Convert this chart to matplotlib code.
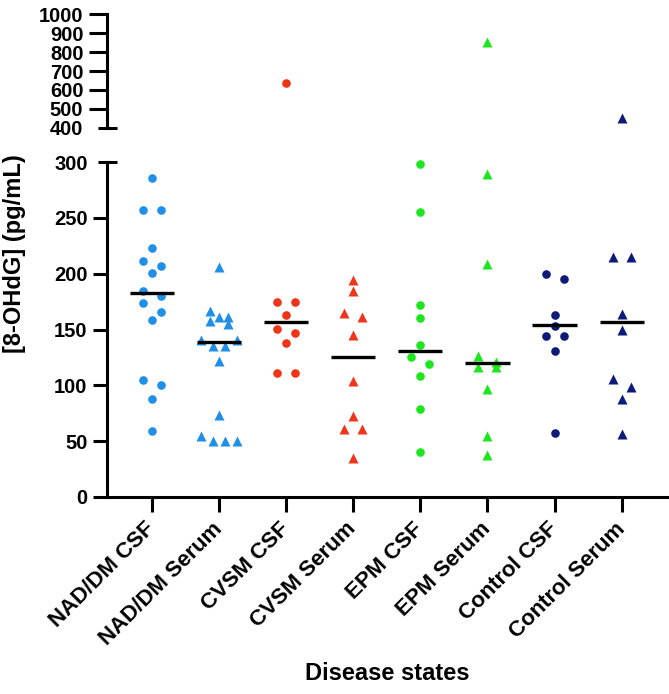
import matplotlib.pyplot as plt
import matplotlib.transforms as mtransforms
import numpy as np

plt.rcParams["font.family"] = ["Liberation Sans", "DejaVu Sans"]
plt.rcParams["font.weight"] = "bold"

groups = ["NAD/DM CSF", "NAD/DM Serum", "CVSM CSF", "CVSM Serum",
          "EPM CSF", "EPM Serum", "Control CSF", "Control Serum"]
markers = ["o", "^", "o", "^", "o", "^", "o", "^"]
colors = ["#1F8FE8", "#1F8FE8", "#F0341A", "#F0341A",
          "#1EE61E", "#1EE61E", "#0D1A7A", "#0D1A7A"]

nad_csf = [285.6, 257, 257, 222.8, 211.4, 207.2, 201, 184.5, 180.3, 173.5,
           165.7, 158.8, 104.4, 100.5, 87.9, 58.9]
nad_serum = [205.7, 166.3, 160.9, 160.9, 157.3, 154.9, 140.5, 140.5, 135.5,
             135.5, 122, 73.3, 54.7, 50.2, 50.2, 50.2]
cvsm_csf = [635, 175, 175, 163, 150.1, 147.1, 138.2, 110.7, 110.7]
cvsm_serum = [194.4, 184.8, 164.5, 161.5, 145, 104, 72.4, 60.7, 60.7, 35.3]
epm_csf = [297.9, 255.4, 172, 160.6, 136.1, 125.6, 118.7, 108.6, 78.7, 40.7]
epm_serum = [855, 289.2, 208.8, 126.2, 121.1, 116.6, 116.6, 96.3, 54.7, 38]
control_csf = [199.5, 195, 162.7, 153.4, 144.5, 144.5, 131, 57.4]
control_serum = [450, 215, 214.7, 163.9, 149.2, 105.9, 98.4, 87.9, 56.2]
medians = [182.4, 138.5, 156.4, 125, 130.7, 119.9, 154, 156.7]

data = [nad_csf, nad_serum, cvsm_csf, cvsm_serum,
        epm_csf, epm_serum, control_csf, control_serum]


def swarm(vals, tol=8, step=0.134):
    # group close values into rows, spread each row sideways
    vals = sorted(vals, reverse=True)
    out = []
    i = 0
    while i < len(vals):
        j = i
        while j + 1 < len(vals) and vals[i] - vals[j + 1] < tol:
            j += 1
        row = vals[i:j + 1]
        n = len(row)
        w = 1 if n <= 3 else 2
        offs = np.linspace(-w, w, n) if n > 1 else np.array([0.0])
        offs = sorted(offs, key=lambda o: (-abs(o), o))
        for v, o in zip(row, offs):
            out.append((o * step, v))
        i = j + 1
    return out


W, H = 669, 694
fig = plt.figure(figsize=(W / 100, H / 100), dpi=100)
ax = fig.add_axes([107 / W, 1 - 497 / H, 560 / W, 335 / H])
axt = fig.add_axes([107 / W, 1 - 127.7 / H, 560 / W, 113.4 / H])

lw = 2.2
for a in (ax, axt):
    a.spines["top"].set_visible(False)
    a.spines["right"].set_visible(False)
    a.spines["left"].set_linewidth(lw)
    a.spines["bottom"].set_linewidth(lw)
    a.set_xlim(-0.666, 7.675)
axt.spines["bottom"].set_visible(False)

for k, vals in enumerate(data):
    pts = swarm(vals)
    ms = 6.2 if markers[k] == "o" else 6.6
    lo = [(k + dx, v) for dx, v in pts if v <= 300]
    hi = [(k + dx, v) for dx, v in pts if v > 300]
    if lo:
        xs, ys = zip(*lo)
        ax.plot(xs, ys, ls="none", marker=markers[k], ms=ms,
                color=colors[k], mec="none", clip_on=False, zorder=3)
    if hi:
        xs, ys = zip(*hi)
        axt.plot(xs, ys, ls="none", marker=markers[k], ms=ms,
                 color=colors[k], mec="none", clip_on=False, zorder=3)
    ax.plot([k - 0.33, k + 0.33], [medians[k], medians[k]],
            color="black", lw=2.4, solid_capstyle="butt", zorder=4)

ax.set_ylim(0, 300)
ax.set_yticks(np.arange(0, 301, 50))
axt.set_ylim(400, 1000)
axt.set_yticks(np.arange(400, 1001, 100))
axt.set_xticks([])

ax.set_xticks(range(len(groups)))
ax.set_xticklabels(groups, rotation=45, ha="right", va="center",
                   rotation_mode="anchor", fontsize=16, fontweight="bold")
ax.tick_params(axis="x", length=10.8, width=lw, pad=10)
ax.tick_params(axis="y", length=10, width=lw, pad=4, labelsize=14.5)
axt.tick_params(axis="y", length=13, width=lw, pad=4, labelsize=14.5)
for t in ax.get_yticklabels() + axt.get_yticklabels():
    t.set_fontweight("bold")

# break marks on the 300 and 400 ticks
ax.yaxis.get_major_ticks()[-1].tick1line.set_visible(False)
axt.yaxis.get_major_ticks()[0].tick1line.set_visible(False)
for a, yv in ((ax, 300), (axt, 400)):
    tr = mtransforms.blended_transform_factory(a.transAxes, a.transData)
    a.plot([-9 / 560, 9.5 / 560], [yv, yv], transform=tr, color="black",
           lw=lw, clip_on=False, solid_capstyle="butt")

fig.text(15 / W, 1 - 254 / H, "[8-OHdG] (pg/mL)", rotation=90,
         ha="center", va="center", fontsize=17, fontweight="bold")
fig.text(387 / W, 1 - 673 / H, "Disease states", ha="center", va="center",
         fontsize=17, fontweight="bold")

fig.savefig("out.png", dpi=100)
